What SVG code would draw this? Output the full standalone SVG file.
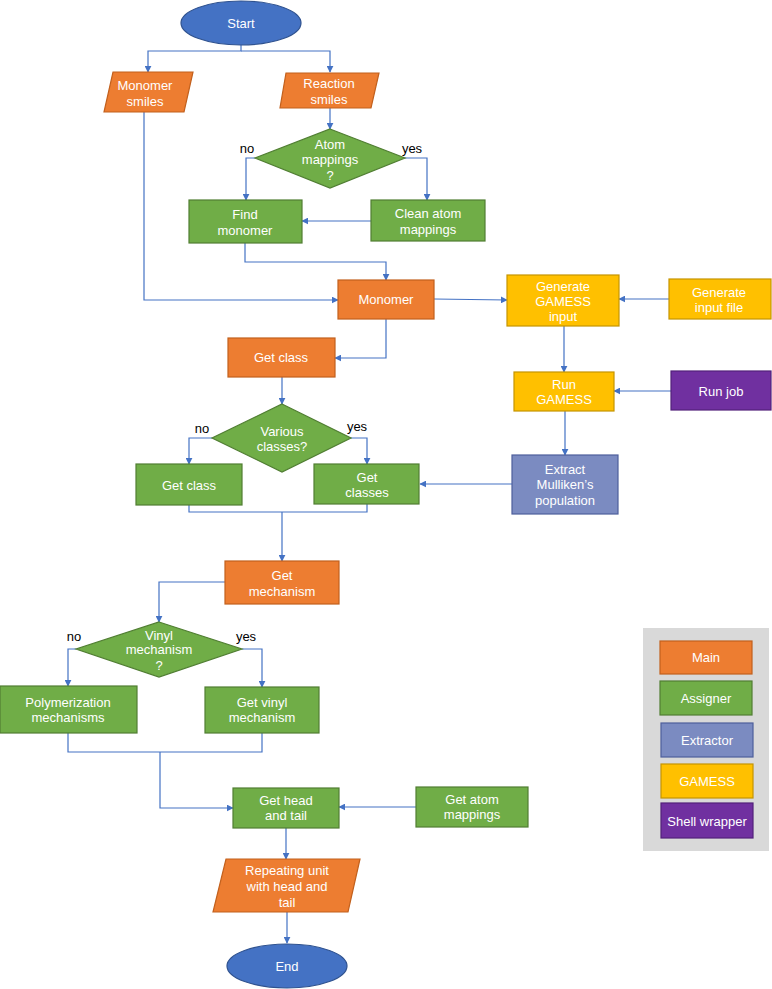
<svg xmlns="http://www.w3.org/2000/svg" width="772" height="989" viewBox="0 0 772 989">
<style>
text{font-family:"Liberation Sans",Arial,sans-serif;font-size:13px;text-anchor:middle}
.w{fill:#fff}
.k{fill:#000}
.or{fill:#ED7D31;stroke:#C2601D;stroke-width:1.2}
.gr{fill:#70AD47;stroke:#507E32;stroke-width:1.2}
.bl{fill:#4472C4;stroke:#2F528F;stroke-width:1.2}
.ye{fill:#FFC000;stroke:#C59400;stroke-width:1.2}
.ex{fill:#7B8BC1;stroke:#4E5F9C;stroke-width:1.2}
.pu{fill:#7030A0;stroke:#52207A;stroke-width:1.2}
.c{fill:none;stroke:#4472C4;stroke-width:1.2}
</style>
<defs>
<marker id="a" viewBox="0 0 10 10" refX="9" refY="5" markerWidth="7" markerHeight="7" orient="auto" markerUnits="userSpaceOnUse">
<path d="M0,0 L10,5 L0,10 z" fill="#4472C4"/>
</marker>
</defs>
<g id="connectors">
<polyline class="c" points="241,45 241,51 148,51 148,72" marker-end="url(#a)"/>
<polyline class="c" points="241,51 330,51 330,72" marker-end="url(#a)"/>
<polyline class="c" points="330,108 330,129" marker-end="url(#a)"/>
<polyline class="c" points="255,158 246,158 246,200" marker-end="url(#a)"/>
<polyline class="c" points="405,158 427,158 427,200" marker-end="url(#a)"/>
<polyline class="c" points="371,221 302,221" marker-end="url(#a)"/>
<polyline class="c" points="245,243 245,262 386,262 386,280" marker-end="url(#a)"/>
<polyline class="c" points="144,112 144,300 338,300" marker-end="url(#a)"/>
<polyline class="c" points="434,299 507,300" marker-end="url(#a)"/>
<polyline class="c" points="669,299 619,299" marker-end="url(#a)"/>
<polyline class="c" points="564,326 564,372" marker-end="url(#a)"/>
<polyline class="c" points="671,391 614,391" marker-end="url(#a)"/>
<polyline class="c" points="565,411 565,455" marker-end="url(#a)"/>
<polyline class="c" points="512,484 420,484" marker-end="url(#a)"/>
<polyline class="c" points="386,319 386,358 335,358" marker-end="url(#a)"/>
<polyline class="c" points="282,377 282,404" marker-end="url(#a)"/>
<polyline class="c" points="212,438 189,438 189,464" marker-end="url(#a)"/>
<polyline class="c" points="351,438 367,438 367,464" marker-end="url(#a)"/>
<polyline class="c" points="189,505 189,512 367,512 367,504"/>
<polyline class="c" points="282,512 282,561" marker-end="url(#a)"/>
<polyline class="c" points="225,582 159,582 159,622" marker-end="url(#a)"/>
<polyline class="c" points="76,649 68,649 68,686" marker-end="url(#a)"/>
<polyline class="c" points="242,649 262,649 262,687" marker-end="url(#a)"/>
<polyline class="c" points="68,733 68,752 262,752 262,733"/>
<polyline class="c" points="160,752 160,808 233,808" marker-end="url(#a)"/>
<polyline class="c" points="416,807 339,807" marker-end="url(#a)"/>
<polyline class="c" points="286,828 286,859" marker-end="url(#a)"/>
<polyline class="c" points="287,912 287,943" marker-end="url(#a)"/>
</g>
<g id="labels">
<text class="k" x="247" y="153">no</text>
<text class="k" x="412" y="153">yes</text>
<text class="k" x="202" y="433">no</text>
<text class="k" x="357" y="431">yes</text>
<text class="k" x="74" y="641">no</text>
<text class="k" x="246" y="641">yes</text>
</g>
<g id="start"><ellipse class="bl" cx="241" cy="23" rx="60" ry="22"/><text class="w" x="241" y="28">Start</text></g>
<g id="monomer-smiles"><polygon class="or" points="113,72 193,72 184,112 104,112"/><text class="w" x="145" y="90">Monomer</text><text class="w" x="145" y="106">smiles</text></g>
<g id="reaction-smiles"><polygon class="or" points="286,73 379,73 371,108 280,108"/><text class="w" x="329" y="88">Reaction</text><text class="w" x="329" y="104">smiles</text></g>
<g id="atom-mappings-q"><polygon class="gr" points="330,129 405,158 330,188 255,158"/><text class="w" x="330" y="149">Atom</text><text class="w" x="330" y="164">mappings</text><text class="w" x="330" y="180">?</text></g>
<g id="find-monomer"><rect class="gr" x="189" y="200" width="113" height="43"/><text class="w" x="245" y="219">Find</text><text class="w" x="245" y="235">monomer</text></g>
<g id="clean-atom-mappings"><rect class="gr" x="371" y="200" width="114" height="41"/><text class="w" x="428" y="218">Clean atom</text><text class="w" x="428" y="234">mappings</text></g>
<g id="monomer"><rect class="or" x="338" y="280" width="96" height="39"/><text class="w" x="386" y="304">Monomer</text></g>
<g id="generate-gamess-input"><rect class="ye" x="507" y="275" width="112" height="51"/><text class="w" x="563" y="291">Generate</text><text class="w" x="563" y="306">GAMESS</text><text class="w" x="563" y="321">input</text></g>
<g id="generate-input-file"><rect class="ye" x="669" y="279" width="102" height="40"/><text class="w" x="719" y="297">Generate</text><text class="w" x="719" y="312">input file</text></g>
<g id="run-gamess"><rect class="ye" x="514" y="372" width="100" height="39"/><text class="w" x="564" y="389">Run</text><text class="w" x="564" y="404">GAMESS</text></g>
<g id="run-job"><rect class="pu" x="671" y="371" width="100" height="39"/><text class="w" x="721" y="396">Run job</text></g>
<g id="extract"><rect class="ex" x="512" y="455" width="106" height="59"/><text class="w" x="565" y="474">Extract</text><text class="w" x="565" y="489">Mulliken’s</text><text class="w" x="565" y="505">population</text></g>
<g id="get-class-main"><rect class="or" x="228" y="338" width="107" height="39"/><text class="w" x="281" y="362">Get class</text></g>
<g id="various-classes-q"><polygon class="gr" points="282,404 351,438 282,472 212,438"/><text class="w" x="282" y="436">Various</text><text class="w" x="282" y="451">classes?</text></g>
<g id="get-class"><rect class="gr" x="136" y="464" width="106" height="41"/><text class="w" x="189" y="490">Get class</text></g>
<g id="get-classes"><rect class="gr" x="314" y="464" width="105" height="40"/><text class="w" x="367" y="482">Get</text><text class="w" x="367" y="497">classes</text></g>
<g id="get-mechanism"><rect class="or" x="225" y="561" width="114" height="43"/><text class="w" x="282" y="580">Get</text><text class="w" x="282" y="596">mechanism</text></g>
<g id="vinyl-q"><polygon class="gr" points="159,622 242,649 159,677 76,649"/><text class="w" x="159" y="640">Vinyl</text><text class="w" x="159" y="654">mechanism</text><text class="w" x="159" y="670">?</text></g>
<g id="polymerization-mechanisms"><rect class="gr" x="0" y="686" width="137" height="47"/><text class="w" x="68" y="707">Polymerization</text><text class="w" x="68" y="722">mechanisms</text></g>
<g id="get-vinyl-mechanism"><rect class="gr" x="205" y="687" width="114" height="46"/><text class="w" x="262" y="707">Get vinyl</text><text class="w" x="262" y="722">mechanism</text></g>
<g id="get-head-tail"><rect class="gr" x="233" y="788" width="106" height="40"/><text class="w" x="286" y="805">Get head</text><text class="w" x="286" y="820">and tail</text></g>
<g id="get-atom-mappings"><rect class="gr" x="416" y="787" width="112" height="40"/><text class="w" x="472" y="804">Get atom</text><text class="w" x="472" y="819">mappings</text></g>
<g id="repeating-unit"><polygon class="or" points="226,859 360,859 348,912 213,912"/><text class="w" x="287" y="875">Repeating unit</text><text class="w" x="287" y="891">with head and</text><text class="w" x="287" y="907">tail</text></g>
<g id="end"><ellipse class="bl" cx="287" cy="966" rx="60" ry="22"/><text class="w" x="287" y="971">End</text></g>
<g id="legend">
<rect x="643" y="628" width="126" height="223" fill="#D9D9D9"/>
<g id="legend-main"><rect class="or" x="660" y="641" width="92" height="33"/><text class="w" x="706" y="662">Main</text></g>
<g id="legend-assigner"><rect class="gr" x="660" y="681" width="92" height="34"/><text class="w" x="706" y="703">Assigner</text></g>
<g id="legend-extractor"><rect class="ex" x="661" y="723" width="92" height="34"/><text class="w" x="707" y="745">Extractor</text></g>
<g id="legend-gamess"><rect class="ye" x="661" y="764" width="92" height="34"/><text class="w" x="707" y="786">GAMESS</text></g>
<g id="legend-shell"><rect class="pu" x="661" y="803" width="92" height="35"/><text class="w" x="707" y="826">Shell wrapper</text></g>
</g>
</svg>
